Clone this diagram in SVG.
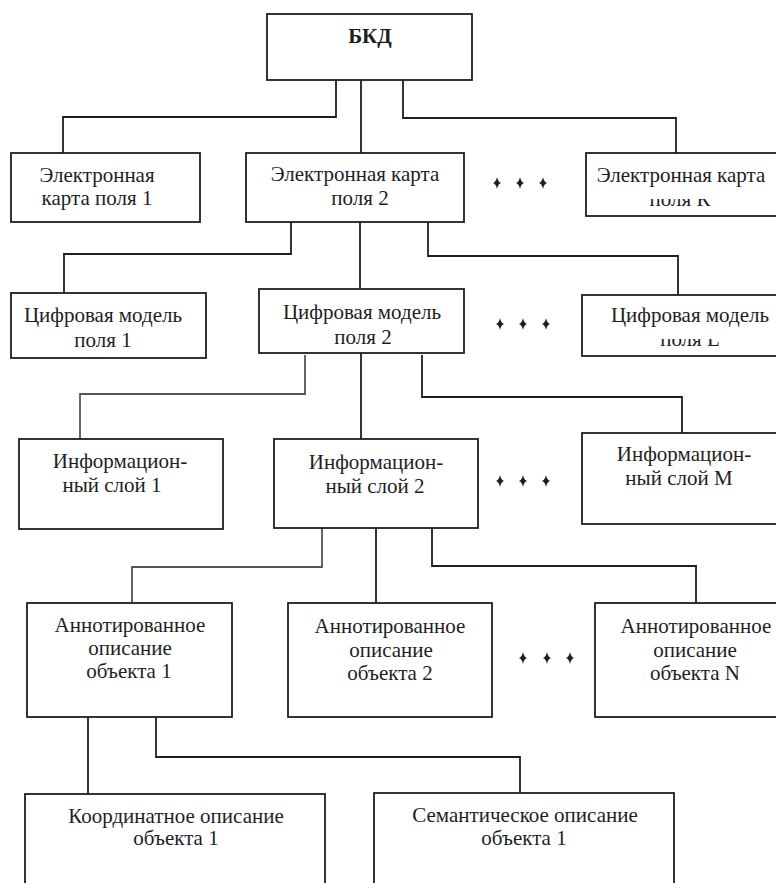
<svg xmlns="http://www.w3.org/2000/svg" width="776" height="883" viewBox="0 0 776 883">
  <style>
    .box { fill: #ffffff; stroke: #1e1e1e; stroke-width: 1.8; }
    .wire { fill: none; stroke: #1e1e1e; stroke-width: 1.8; }
    .wire.soft { stroke: #555555; }
    text { font-family: 'Liberation Serif', 'DejaVu Serif', serif; font-size: 21px; fill: #1e1e1e; text-anchor: middle; }
    .title { font-weight: bold; }
    .star { fill: #1e1e1e; }
  </style>
  <defs>
    <path id="star" d="M0,-6 Q1,-1 4,0 Q1,1 0,6 Q-1,1 -4,0 Q-1,-1 0,-6 Z"/>
    <clipPath id="clipK"><rect x="580" y="199" width="200" height="20"/></clipPath>
    <clipPath id="clipL"><rect x="580" y="339" width="200" height="20"/></clipPath>
  </defs>
  <rect width="776" height="883" fill="#ffffff"/>

  <!-- connectors -->
  <g id="connectors">
    <path class="wire" d="M336 80 V117 H63 V153"/>
    <path class="wire" d="M361 76 V153"/>
    <path class="wire" d="M403 80 V118 H676 V153"/>

    <path class="wire" d="M291 218 V254 H64 V293"/>
    <path class="wire" d="M360 206 V289"/>
    <path class="wire" d="M428 218 V256 H678 V295"/>

    <path class="wire soft" d="M305 355 V394 H80 V439"/>
    <path class="wire" d="M361 353 V439"/>
    <path class="wire" d="M422 355 V397 H682 V433"/>

    <path class="wire soft" d="M322 528 V567 H132 V603"/>
    <path class="wire" d="M376 528 V603"/>
    <path class="wire" d="M432 528 V566 H696 V603"/>

    <path class="wire" d="M88 717 V794"/>
    <path class="wire" d="M156 717 V757 H520 V793"/>
  </g>

  <!-- level 0 -->
  <g id="bkd">
    <rect class="box" x="267" y="14" width="205" height="66"/>
    <text class="title" x="370" y="43">БКД</text>
  </g>

  <!-- level 1: electronic maps -->
  <g id="map1">
    <rect class="box" x="11" y="153" width="189" height="69"/>
    <text x="97" y="182">Электронная</text>
    <text x="97" y="205">карта поля 1</text>
  </g>
  <g id="map2">
    <rect class="box" x="246" y="153" width="218" height="69"/>
    <text x="355" y="181">Электронная карта</text>
    <text x="360" y="205">поля 2</text>
  </g>
  <g id="mapK">
    <rect class="box" x="586" y="153" width="200" height="63"/>
    <text x="681" y="182">Электронная карта</text>
    <text x="680" y="206" clip-path="url(#clipK)">поля К</text>
  </g>
  <g id="dots1">
    <use href="#star" class="star" x="497" y="183"/>
    <use href="#star" class="star" x="520" y="183"/>
    <use href="#star" class="star" x="543" y="183"/>
  </g>

  <!-- level 2: digital models -->
  <g id="model1">
    <rect class="box" x="11" y="293" width="195" height="65"/>
    <text x="103" y="322">Цифровая модель</text>
    <text x="103" y="347">поля 1</text>
  </g>
  <g id="model2">
    <rect class="box" x="259" y="289" width="205" height="64"/>
    <text x="362" y="319">Цифровая модель</text>
    <text x="363" y="344">поля 2</text>
  </g>
  <g id="modelL">
    <rect class="box" x="582" y="295" width="200" height="61"/>
    <text x="690" y="322">Цифровая модель</text>
    <text x="690" y="346" clip-path="url(#clipL)">поля L</text>
  </g>
  <g id="dots2">
    <use href="#star" class="star" x="500" y="324"/>
    <use href="#star" class="star" x="523" y="324"/>
    <use href="#star" class="star" x="546" y="324"/>
  </g>

  <!-- level 3: information layers -->
  <g id="layer1">
    <rect class="box" x="19" y="439" width="204" height="90"/>
    <text x="120" y="468">Информацион-</text>
    <text x="112" y="492">ный слой 1</text>
  </g>
  <g id="layer2">
    <rect class="box" x="274" y="439" width="204" height="89"/>
    <text x="376" y="469">Информацион-</text>
    <text x="375" y="493">ный слой 2</text>
  </g>
  <g id="layerM">
    <rect class="box" x="582" y="433" width="200" height="91"/>
    <text x="684" y="461">Информацион-</text>
    <text x="679" y="485">ный слой М</text>
  </g>
  <g id="dots3">
    <use href="#star" class="star" x="500" y="481"/>
    <use href="#star" class="star" x="523" y="481"/>
    <use href="#star" class="star" x="546" y="481"/>
  </g>

  <!-- level 4: annotated object descriptions -->
  <g id="object1">
    <rect class="box" x="27" y="603" width="205" height="114"/>
    <text x="130" y="632">Аннотированное</text>
    <text x="130" y="655">описание</text>
    <text x="129" y="678">объекта 1</text>
  </g>
  <g id="object2">
    <rect class="box" x="288" y="603" width="204" height="114"/>
    <text x="390" y="633">Аннотированное</text>
    <text x="391" y="657">описание</text>
    <text x="390" y="680">объекта 2</text>
  </g>
  <g id="objectN">
    <rect class="box" x="595" y="603" width="200" height="114"/>
    <text x="696" y="633">Аннотированное</text>
    <text x="695" y="657">описание</text>
    <text x="695" y="680">объекта N</text>
  </g>
  <g id="dots4">
    <use href="#star" class="star" x="523" y="658"/>
    <use href="#star" class="star" x="547" y="658"/>
    <use href="#star" class="star" x="570" y="658"/>
  </g>

  <!-- level 5: coordinate and semantic descriptions -->
  <g id="coords1">
    <rect class="box" x="25" y="794" width="300" height="100"/>
    <text x="176" y="823">Координатное описание</text>
    <text x="176" y="845">объекта 1</text>
  </g>
  <g id="semantics1">
    <rect class="box" x="374" y="793" width="300" height="100"/>
    <text x="525" y="822">Семантическое описание</text>
    <text x="524" y="845">объекта 1</text>
  </g>
</svg>
